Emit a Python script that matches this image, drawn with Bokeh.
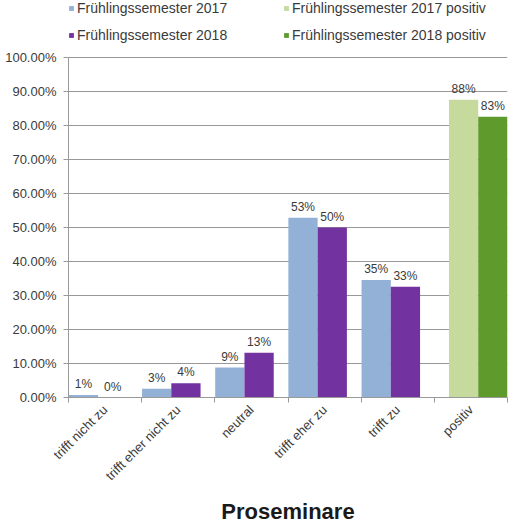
import math
from bokeh.plotting import figure
from bokeh.models import (Range1d, FixedTicker, Legend, LegendItem, LinearAxis, ColumnDataSource)
from bokeh.core.properties import value
from bokeh.embed import file_html
from bokeh.resources import INLINE

# ---- data ----
categories = ["trifft nicht zu", "trifft eher nicht zu", "neutral", "trifft eher zu", "trifft zu", "positiv"]
fs2017 = [0.7, 2.6, 8.8, 52.9, 34.6]
fs2018 = [0.0, 4.2, 13.2, 50.0, 32.6]
pos2017 = [87.6]
pos2018 = [82.6]
y_ticks = [0, 10, 20, 30, 40, 50, 60, 70, 80, 90, 100]
series_names = ["Frühlingssemester 2017", "Frühlingssemester 2018",
                "Frühlingssemester 2017 positiv", "Frühlingssemester 2018 positiv"]
title_text = "Proseminare"

C_BLUE = "#93B1D6"
C_PURPLE = "#7232A0"
C_LGREEN = "#C5DA9C"
C_DGREEN = "#5E9A2C"
FONT = "Liberation Sans"
TXT = "#3a3a3a"
GRID = "#999999"

p = figure(width=508, height=526, output_backend="svg", toolbar_location=None,
           x_range=Range1d(0, len(categories)), y_range=Range1d(0, 116.8),
           min_border_left=68, min_border_right=1, min_border_top=0, min_border_bottom=129)
p.outline_line_color = None
p.background_fill_color = "white"

n = len(fs2017)
idx = list(range(n))
src17 = ColumnDataSource(dict(x=[i + 0.205 for i in idx], top=fs2017,
                              lab=[f"{v:.0f}%" for v in fs2017]))
src18 = ColumnDataSource(dict(x=[i + 0.605 for i in idx], top=fs2018,
                              lab=[f"{v:.0f}%" for v in fs2018]))
pi_ = len(categories) - 1
srcp17 = ColumnDataSource(dict(x=[pi_ + 0.4], top=pos2017, lab=[f"{v:.0f}%" for v in pos2017]))
srcp18 = ColumnDataSource(dict(x=[pi_ + 0.8], top=pos2018, lab=[f"{v:.0f}%" for v in pos2018]))

r17 = p.vbar(x="x", top="top", width=0.4, bottom=0, source=src17, fill_color=C_BLUE, line_color=None)
r18 = p.vbar(x="x", top="top", width=0.4, bottom=0, source=src18, fill_color=C_PURPLE, line_color=None)
rp17 = p.vbar(x="x", top="top", width=0.4, bottom=0, source=srcp17, fill_color=C_LGREEN, line_color=None)
rp18 = p.vbar(x="x", top="top", width=0.4, bottom=0, source=srcp18, fill_color=C_DGREEN, line_color=None)

for s in (src17, src18, srcp17, srcp18):
    p.text(x="x", y="top", text="lab", source=s, text_align="center", text_baseline="bottom",
           y_offset=-4, text_font=value(FONT), text_font_size="12px", text_color=TXT)

# y axis
p.yaxis.ticker = FixedTicker(ticks=y_ticks)
p.yaxis.bounds = (0, 100)
p.yaxis.major_label_overrides = {t: f"{t:.2f}%" for t in y_ticks}
p.yaxis.major_tick_out = 5
p.yaxis.major_tick_in = 0
p.yaxis.minor_tick_line_color = None
p.yaxis.axis_line_color = GRID
p.yaxis.major_tick_line_color = GRID
p.yaxis.major_label_text_font = FONT
p.yaxis.major_label_text_font_size = "13px"
p.yaxis.major_label_text_color = TXT
p.yaxis.major_label_standoff = 7
p.ygrid.grid_line_color = GRID
p.ygrid.ticker = FixedTicker(ticks=y_ticks)

# x axis
centers = [i + 0.5 for i in range(len(categories))]
p.xaxis.ticker = FixedTicker(ticks=centers, minor_ticks=list(range(len(categories) + 1)))
p.xaxis.major_label_overrides = {c: name for c, name in zip(centers, categories)}
p.xaxis.major_tick_line_color = None
p.xaxis.minor_tick_line_color = GRID
p.xaxis.minor_tick_out = 5
p.xaxis.minor_tick_in = 0
p.xaxis.axis_line_color = GRID
p.xaxis.major_label_orientation = math.pi / 4
p.xaxis.major_label_text_font = FONT
p.xaxis.major_label_text_font_size = "13px"
p.xaxis.major_label_text_color = TXT
p.xaxis.major_label_standoff = 4
p.xgrid.grid_line_color = None

# legend (inside the frame, at its top, above the 100% line)
legend = Legend(items=[LegendItem(label=series_names[0], renderers=[r17]),
                       LegendItem(label=series_names[1], renderers=[r18]),
                       LegendItem(label=series_names[2], renderers=[rp17]),
                       LegendItem(label=series_names[3], renderers=[rp18])],
                ncols=2, orientation="vertical", location="top_left",
                glyph_width=6, glyph_height=6, label_standoff=3, label_width=195,
                label_height=14, spacing=11, padding=8, margin=0,
                label_text_font=FONT, label_text_font_size="14px", label_text_color=TXT,
                border_line_color=None, background_fill_alpha=0)
p.add_layout(legend)

# chart title at the bottom, as the label of a second (invisible) bottom axis
title_axis = LinearAxis(ticker=FixedTicker(ticks=[]), bounds=(0, 5.33),
                        axis_label=title_text, axis_label_standoff=7,
                        axis_label_text_font=FONT, axis_label_text_font_size="22px",
                        axis_label_text_font_style="bold", axis_label_text_color="#1a1a1a",
                        axis_line_color=None, major_tick_line_color=None,
                        minor_tick_line_color=None)
p.add_layout(title_axis, "below")

open("out.html", "w").write(file_html(p, INLINE))
